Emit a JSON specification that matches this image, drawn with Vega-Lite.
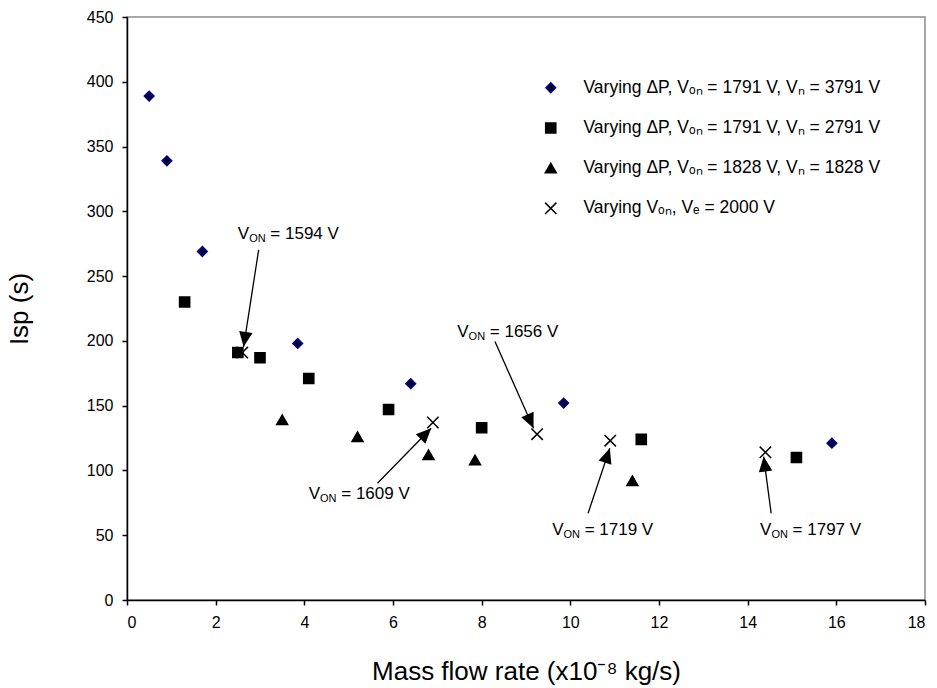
{
  "$schema": "https://vega.github.io/schema/vega-lite/v6.json",
  "width": 798,
  "height": 583,
  "autosize": {"type": "none"},
  "padding": {"left": 127, "top": 17, "right": 12, "bottom": 88},
  "background": "white",
  "config": {
    "font": "Liberation Sans",
    "view": {"stroke": "#8a8a8a", "strokeWidth": 1.5},
    "axis": {
      "domainColor": "black", "domainWidth": 1.5,
      "tickColor": "black", "tickWidth": 1.5, "tickSize": 5,
      "labelFont": "Liberation Sans", "labelFontSize": 16, "labelColor": "black", "labelPadding": 9,
      "titleFont": "Liberation Sans", "titleFontSize": 26, "titleFontWeight": "normal", "titleColor": "black",
      "grid": false
    },
    "legend": {
      "labelFont": "Liberation Sans", "labelFontSize": 17.5, "labelColor": "black", "labelLimit": 400
    }
  },
  "datasets": {
    "points": [
      {"series": "D", "mfr": 2.6, "isp": 191},
      {"series": "D", "mfr": 6.9, "isp": 137},
      {"series": "D", "mfr": 9.25, "isp": 128},
      {"series": "D", "mfr": 10.9, "isp": 123},
      {"series": "D", "mfr": 14.4, "isp": 114},
      {"series": "A", "mfr": 0.5, "isp": 389},
      {"series": "A", "mfr": 0.9, "isp": 339},
      {"series": "A", "mfr": 1.7, "isp": 269},
      {"series": "A", "mfr": 3.85, "isp": 198},
      {"series": "A", "mfr": 6.4, "isp": 167},
      {"series": "A", "mfr": 9.85, "isp": 152},
      {"series": "A", "mfr": 15.9, "isp": 121},
      {"series": "B", "mfr": 1.3, "isp": 230},
      {"series": "B", "mfr": 2.5, "isp": 191},
      {"series": "B", "mfr": 3.0, "isp": 187},
      {"series": "B", "mfr": 4.1, "isp": 171},
      {"series": "B", "mfr": 5.9, "isp": 147},
      {"series": "B", "mfr": 8.0, "isp": 133},
      {"series": "B", "mfr": 11.6, "isp": 124},
      {"series": "B", "mfr": 15.1, "isp": 110},
      {"series": "C", "mfr": 3.5, "isp": 139},
      {"series": "C", "mfr": 5.2, "isp": 126},
      {"series": "C", "mfr": 6.8, "isp": 112},
      {"series": "C", "mfr": 7.85, "isp": 108},
      {"series": "C", "mfr": 11.4, "isp": 92}
    ],
    "notes": [
      {"rest": "= 1594 V", "lx": 2.5, "ly": 282.6, "sx": 2.97, "sy": 270.3, "tx": 2.63, "ty": 195.4},
      {"rest": "= 1609 V", "lx": 4.1, "ly": 81.9, "sx": 5.65, "sy": 90.1, "tx": 6.86, "ty": 132.6},
      {"rest": "= 1656 V", "lx": 7.45, "ly": 207.2, "sx": 8.3, "sy": 199.5, "tx": 9.17, "ty": 132.6},
      {"rest": "= 1719 V", "lx": 9.59, "ly": 54.1, "sx": 10.4, "sy": 66.9, "tx": 10.89, "ty": 117.1},
      {"rest": "= 1797 V", "lx": 14.28, "ly": 54.1, "sx": 14.53, "sy": 66.9, "tx": 14.36, "ty": 110.7}
    ]
  },
  "layer": [
    {
      "data": {"name": "points"},
      "mark": {"type": "point", "filled": true, "opacity": 1},
      "encoding": {
        "x": {"field": "mfr", "type": "quantitative",
              "scale": {"domain": [0, 18], "nice": false, "zero": false},
              "axis": {"values": [0, 2, 4, 6, 8, 10, 12, 14, 16, 18], "title": "Mass flow rate (x10⁻⁸ kg/s)", "titlePadding": 28}},
        "y": {"field": "isp", "type": "quantitative",
              "scale": {"domain": [0, 450], "nice": false},
              "axis": {"values": [0, 50, 100, 150, 200, 250, 300, 350, 400, 450], "title": "Isp (s)", "titlePadding": 54}},
        "shape": {"field": "series", "type": "nominal",
                  "scale": {"domain": ["A", "B", "C", "D"], "range": ["diamond", "square", "triangle-up", "M-1,-1L1,1M-1,1L1,-1"]},
                  "legend": {
                    "title": null, "orient": "none", "legendX": 415, "legendY": 62, "padding": 0,
                    "rowPadding": 21.2, "labelOffset": 24,
                    "labelExpr": "datum.value == 'A' ? 'Varying ΔP, Vₒₙ = 1791 V, Vₙ = 3791 V' : datum.value == 'B' ? 'Varying ΔP, Vₒₙ = 1791 V, Vₙ = 2791 V' : datum.value == 'C' ? 'Varying ΔP, Vₒₙ = 1828 V, Vₙ = 1828 V' : 'Varying Vₒₙ, Vₑ = 2000 V'"
                  }},
        "fill": {"field": "series", "type": "nominal",
                 "scale": {"domain": ["A", "B", "C", "D"], "range": ["#000000", "#000000", "#000000", "#000000"]}},
        "stroke": {"field": "series", "type": "nominal",
                   "scale": {"domain": ["A", "B", "C", "D"], "range": ["#000080", "#000000", "#000000", "#000000"]}},
        "strokeWidth": {"field": "series", "type": "nominal",
                   "scale": {"domain": ["A", "B", "C", "D"], "range": [2.2, 1.5, 1.5, 1.5]}},
        "size": {"field": "series", "type": "nominal",
                 "scale": {"domain": ["A", "B", "C", "D"], "range": [75, 130, 110, 144]}}
      }
    },
    {
      "data": {"name": "notes"},
      "mark": {"type": "rule", "color": "black", "strokeWidth": 1.3},
      "encoding": {
        "x": {"field": "sx", "type": "quantitative"},
        "y": {"field": "sy", "type": "quantitative"},
        "x2": {"field": "tx"},
        "y2": {"field": "ty"}
      }
    },
    {
      "data": {"name": "notes"},
      "transform": [
        {"calculate": "atan2((datum.tx - datum.sx) * 44.33, (datum.ty - datum.sy) * 1.2956) * 180 / PI", "as": "ang"}
      ],
      "mark": {"type": "point", "filled": true, "color": "black", "opacity": 1, "size": 900, "shape": "M0,0L-0.45,1L0.45,1Z"},
      "encoding": {
        "x": {"field": "tx", "type": "quantitative"},
        "y": {"field": "ty", "type": "quantitative"},
        "angle": {"field": "ang", "type": "quantitative", "scale": null}
      }
    },
    {
      "data": {"name": "notes"},
      "mark": {"type": "text", "text": "V", "align": "left", "baseline": "middle", "fontSize": 17, "color": "black"},
      "encoding": {
        "x": {"field": "lx", "type": "quantitative"},
        "y": {"field": "ly", "type": "quantitative"}
      }
    },
    {
      "data": {"name": "notes"},
      "mark": {"type": "text", "text": "ON", "align": "left", "baseline": "middle", "fontSize": 11, "dx": 11.3, "dy": 5, "color": "black"},
      "encoding": {
        "x": {"field": "lx", "type": "quantitative"},
        "y": {"field": "ly", "type": "quantitative"}
      }
    },
    {
      "data": {"name": "notes"},
      "mark": {"type": "text", "align": "left", "baseline": "middle", "fontSize": 17, "dx": 32.5, "color": "black"},
      "encoding": {
        "x": {"field": "lx", "type": "quantitative"},
        "y": {"field": "ly", "type": "quantitative"},
        "text": {"field": "rest"}
      }
    }
  ]
}
